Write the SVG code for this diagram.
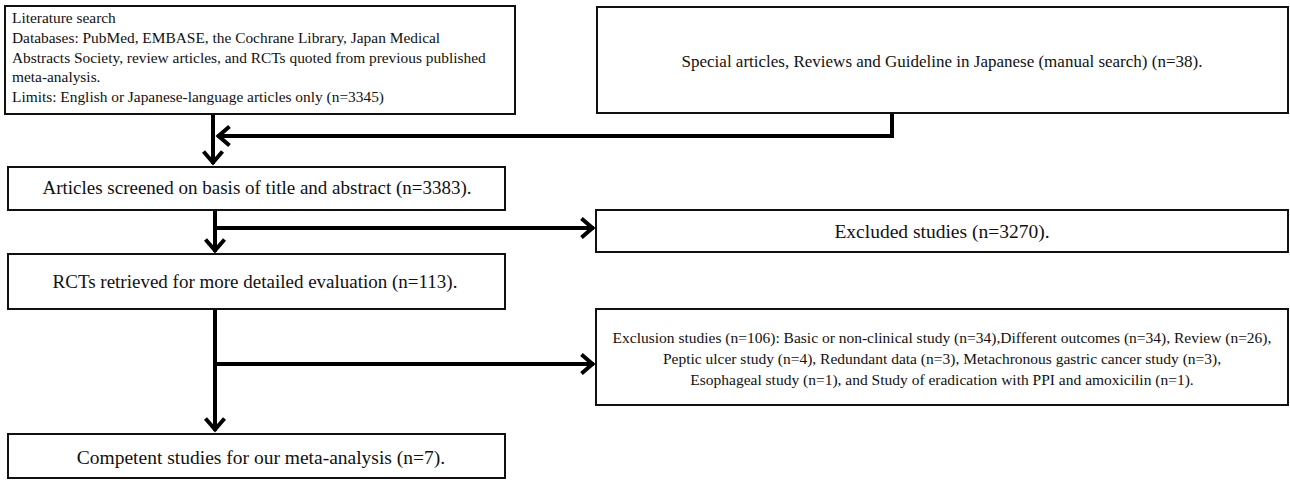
<svg xmlns="http://www.w3.org/2000/svg" width="1290" height="480" viewBox="0 0 1290 480">
<defs>
<style>
.box{fill:#fff;stroke:#111;stroke-width:2}
.t{font-family:"Liberation Serif","Times New Roman",serif;fill:#111}
.c{text-anchor:middle}
.conn{fill:none;stroke:#000;stroke-width:4}
</style>
<marker id="ah" markerUnits="userSpaceOnUse" viewBox="-16 -12 18 24" markerWidth="18" markerHeight="24" refX="0" refY="0" orient="auto">
<path d="M-12.5,-9.5 L-1.5,0 L-12.5,9.5" fill="none" stroke="#000" stroke-width="4"/>
</marker>
</defs>
<rect width="1290" height="480" fill="#fff"/>
<g id="connectors">
<line class="conn" x1="213" y1="115" x2="213" y2="164" marker-end="url(#ah)"/>
<polyline class="conn" points="892,113 892,136 217,136" marker-end="url(#ah)"/>
<line class="conn" x1="215" y1="210" x2="215" y2="252" marker-end="url(#ah)"/>
<line class="conn" x1="215" y1="228" x2="594" y2="228" marker-end="url(#ah)"/>
<line class="conn" x1="215" y1="309" x2="215" y2="431" marker-end="url(#ah)"/>
<line class="conn" x1="215" y1="364" x2="594" y2="364" marker-end="url(#ah)"/>
</g>
<g id="literature">
<rect class="box" x="5" y="6" width="510" height="108"/>
<text class="t" font-size="15.4"><tspan x="12" y="23">Literature search</tspan><tspan x="12" y="43">Databases: PubMed, EMBASE, the Cochrane Library, Japan Medical</tspan><tspan x="12" y="63">Abstracts Society, review articles, and RCTs quoted from previous published</tspan><tspan x="12" y="82">meta-analysis.</tspan><tspan x="12" y="102">Limits: English or Japanese-language articles only (n=3345)</tspan></text>
</g>
<g id="special">
<rect class="box" x="597" y="7" width="691" height="106"/>
<text class="t c" font-size="17" x="942" y="67">Special articles, Reviews and Guideline in Japanese (manual search) (n=38).</text>
</g>
<g id="screened">
<rect class="box" x="8" y="167" width="497" height="43"/>
<text class="t c" font-size="19" x="257" y="194">Articles screened on basis of title and abstract (n=3383).</text>
</g>
<g id="excluded">
<rect class="box" x="596" y="210" width="692" height="42"/>
<text class="t c" font-size="19.5" x="942" y="238">Excluded studies (n=3270).</text>
</g>
<g id="rcts">
<rect class="box" x="8" y="254" width="497" height="55"/>
<text class="t c" font-size="19" x="255" y="288">RCTs retrieved for more detailed evaluation (n=113).</text>
</g>
<g id="exclusion">
<rect class="box" x="596" y="309" width="692" height="96"/>
<text class="t c" font-size="15.5"><tspan x="942" y="343">Exclusion studies (n=106): Basic or non-clinical study (n=34),Different outcomes (n=34), Review (n=26),</tspan><tspan x="942" y="364">Peptic ulcer study (n=4), Redundant data (n=3), Metachronous gastric cancer study (n=3),</tspan><tspan x="942" y="385">Esophageal study (n=1),  and Study of eradication with PPI and amoxicilin (n=1).</tspan></text>
</g>
<g id="competent">
<rect class="box" x="8" y="434" width="497" height="44"/>
<text class="t c" font-size="19.5" x="261" y="464">Competent studies for our meta-analysis (n=7).</text>
</g>
</svg>
